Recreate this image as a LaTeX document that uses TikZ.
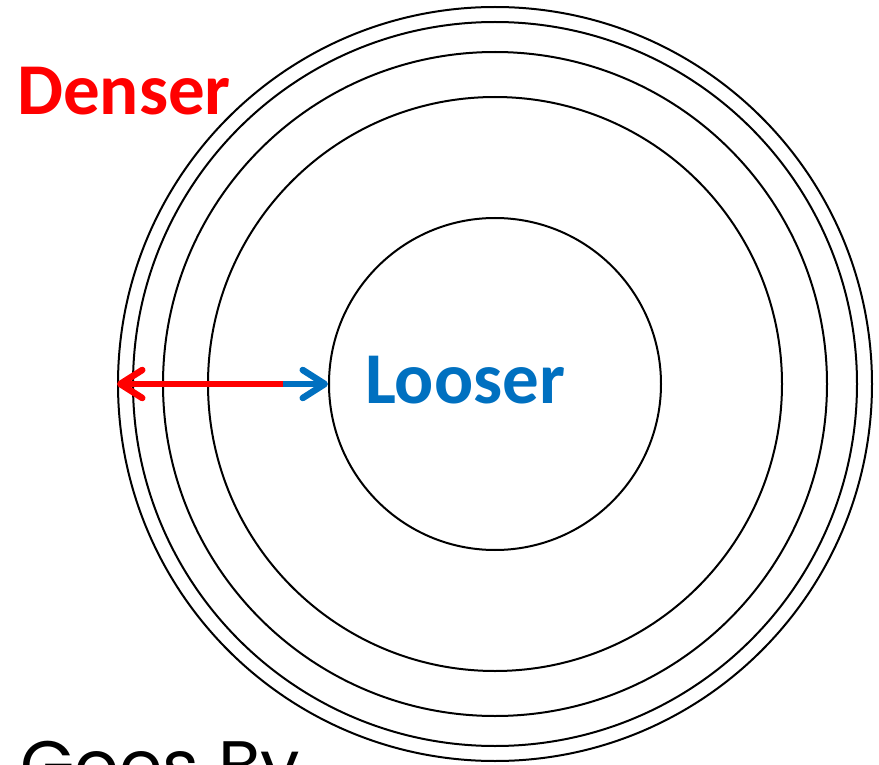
\documentclass[tikz,border=0pt]{standalone}
\usepackage{fontspec}
\setmainfont{Carlito}
\newfontfamily\goesfont{Poppins}
\usetikzlibrary{arrows.meta}
\definecolor{dred}{HTML}{FF0000}
\definecolor{lblue}{HTML}{0070C0}
\tikzset{
  ring/.style={circle, draw=black, line width=2pt, inner sep=0pt, minimum size=#1},
  arr/.style={line width=6.5pt, -{Straight Barb[length=22pt, width=28pt, round]}},
  lbl/.style={font=\bfseries\fontsize{73}{86}\selectfont, anchor=base west, inner sep=0pt}
}
\begin{document}
\begin{tikzpicture}[x=1pt, y=-1pt]
\useasboundingbox (0,0) rectangle (879,765);
\clip (0,0) rectangle (879,765);
\coordinate (c) at (495,384);
\node[ring=332pt] (r1) at (c) {};
\node[ring=574pt] (r2) at (c) {};
\node[ring=664pt] (r3) at (c) {};
\node[ring=724pt] (r4) at (c) {};
\node[ring=754pt] (r5) at (c) {};
\coordinate (split) at (283,384);
\draw[arr, dred] (split) -- (r5.west);
\draw[arr, lblue] (split) -- (r1.west);
\node[lbl, text=dred] (denser) at (17,115) {Denser};
\node[lbl, text=lblue] (looser) at (365,403) {Looser};
\node[anchor=base west, inner sep=0pt, font=\goesfont\fontsize{70}{82}\selectfont] (goes) at (20,790) {Goes By};
\end{tikzpicture}
\end{document}
